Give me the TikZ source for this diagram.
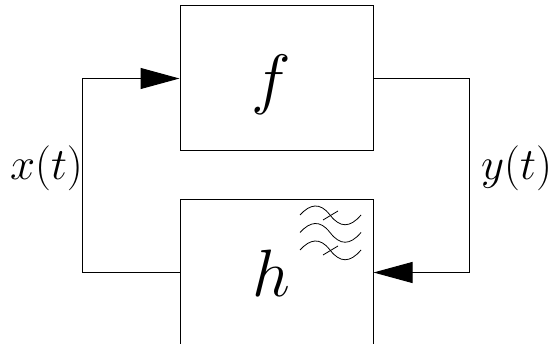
\documentclass[tikz,border=0pt]{standalone}
\usepackage{fix-cm}
\usepackage{tikz}
\usetikzlibrary{positioning, arrows.meta}
\tikzset{
  blockbox/.style={draw, line width=1pt, inner sep=0pt, minimum width=193pt, minimum height=145pt},
  blockname/.style={inner sep=0pt, font=\fontsize{67}{80}\selectfont},
  wire/.style={line width=1pt, -{Triangle[length=39pt,width=21pt]}},
  signal/.style={inner sep=0pt, font=\fontsize{45}{54}\selectfont},
  wave/.style={line width=0.8pt}
}

\begin{document}
\begin{tikzpicture}[x=1pt, y=-1pt]
    \useasboundingbox (0,0) rectangle (551,344);
    \node[blockbox] (fbox) at (276.5,78.5) {};
    \node[blockbox, below=48pt of fbox] (hbox) {};
    \node[blockname] (fname) at (271.5,84.5) {$f$};
    \node[blockname] (hname) at (271.5,273.5) {$h$};
    \coordinate (xturn) at (82,78.5);
    \coordinate (yturn) at (469,78.5);
    \draw[wire] (hbox.west) -| (xturn) -- (fbox.west);
    \draw[wire] (fbox.east) -- (yturn) |- (hbox.east);
    \node[signal] (xlabel) at (46.5,168) {$x(t)$};
    \node[signal] (ylabel) at (516.5,168) {$y(t)$};
    % noise on the lower block
    \foreach \yoff in {0,17.5,35} {
      \draw[wave] (300,215+\yoff) .. controls (310,204+\yoff) and (320,202+\yoff) .. (330,215+\yoff)
        .. controls (340,228+\yoff) and (350,228+\yoff) .. (361,215+\yoff);
    }
    \draw[wave] (323,220) -- (338,211);
    \draw[wave] (323,255) -- (338,246);
  \end{tikzpicture}
\end{document}
